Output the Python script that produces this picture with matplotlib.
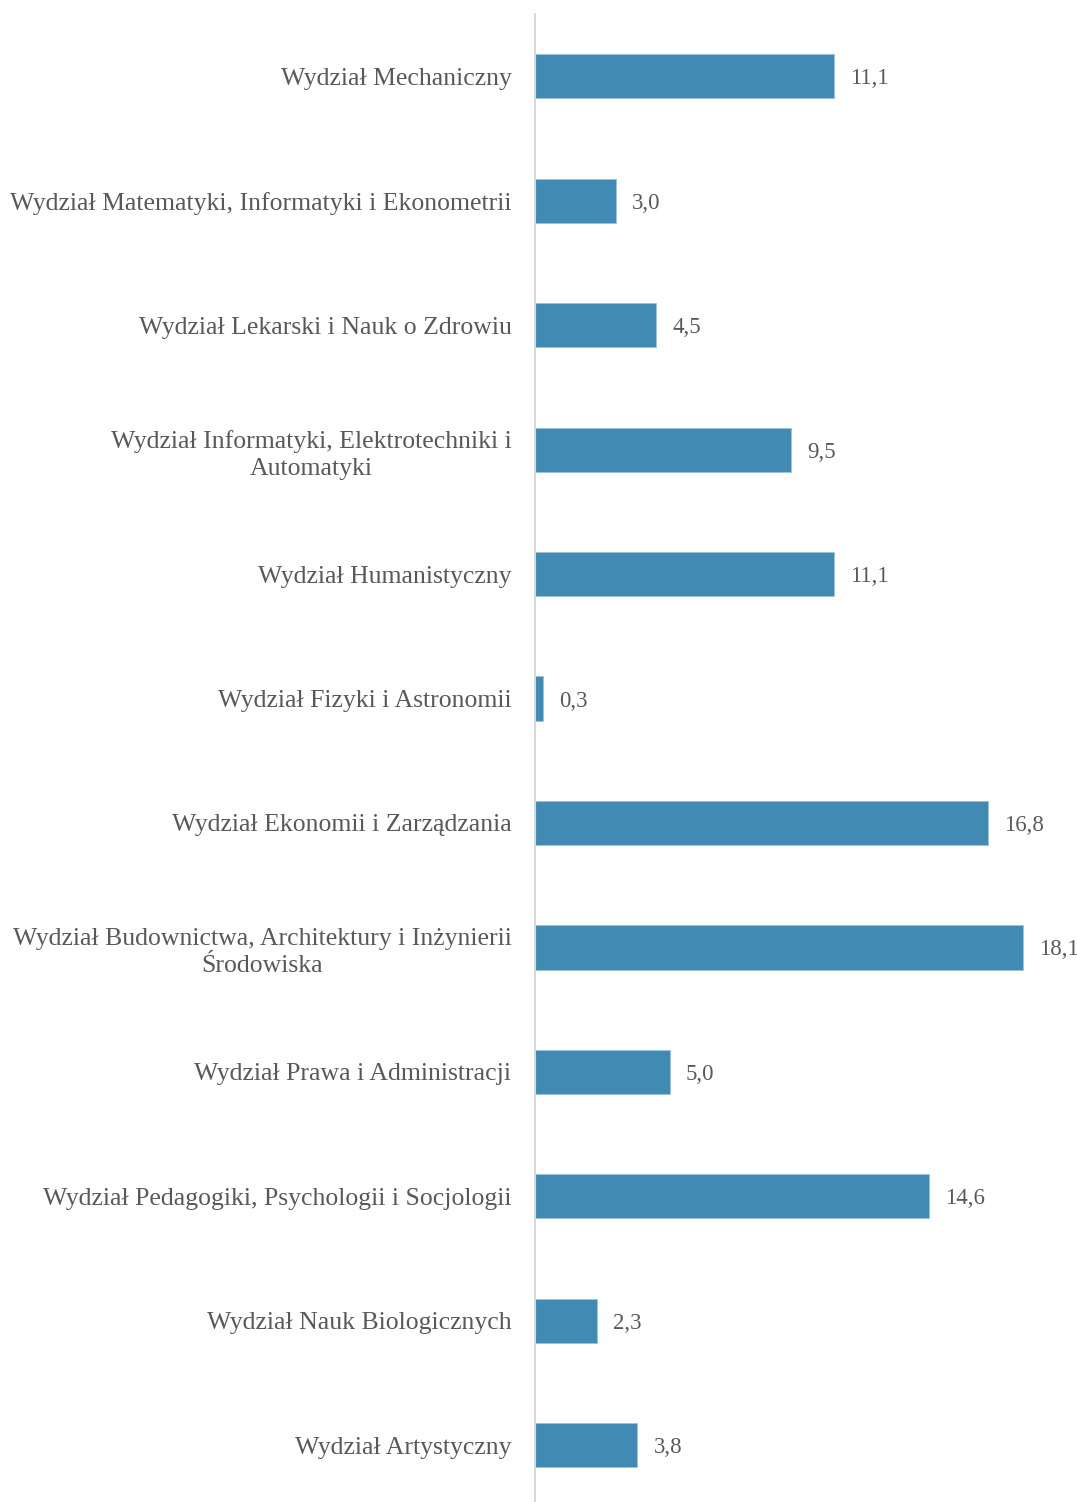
import matplotlib.pyplot as plt

faculties = [
    "Wydział Mechaniczny",
    "Wydział Matematyki, Informatyki i Ekonometrii",
    "Wydział Lekarski i Nauk o Zdrowiu",
    "Wydział Informatyki, Elektrotechniki i\nAutomatyki",
    "Wydział Humanistyczny",
    "Wydział Fizyki i Astronomii",
    "Wydział Ekonomii i Zarządzania",
    "Wydział Budownictwa, Architektury i Inżynierii\nŚrodowiska",
    "Wydział Prawa i Administracji",
    "Wydział Pedagogiki, Psychologii i Socjologii",
    "Wydział Nauk Biologicznych",
    "Wydział Artystyczny",
]
values = [11.1, 3.0, 4.5, 9.5, 11.1, 0.3, 16.8, 18.1, 5.0, 14.6, 2.3, 3.8]

BAR = '#418AB3'
TXT = '#595959'

plt.rcParams['font.family'] = ['Liberation Serif', 'DejaVu Serif']

fig = plt.figure(figsize=(10.77, 15.02), dpi=100)
# axes slightly taller than the figure so the 12 rows get the reference spacing
ax = fig.add_axes([535/1077, -5.5/1502, 540/1077, 1493.5/1502])

y = list(range(len(faculties)))
ax.barh(y, values, height=0.355, color=BAR, edgecolor='#9CC3DA', linewidth=0.6)
for yi, v in zip(y, values):
    ax.text(v + 0.6, yi + 0.02, f"{v:.1f}".replace('.', ','), va='center', ha='left',
            fontsize=16.5, color=TXT)

ax.set_xlim(0, 540/26.96)
ax.set_ylim(len(faculties) - 0.5, -0.5)
ax.set_yticks(y)
ax.set_yticklabels(faculties, fontsize=18.5, color=TXT, ha='right',
                   multialignment='center', linespacing=1.3)
ax.tick_params(axis='y', length=0, pad=17)
ax.set_xticks([])
for s in ['top', 'right', 'bottom']:
    ax.spines[s].set_visible(False)
ax.spines['left'].set_color('#D9D9D9')
ax.spines['left'].set_linewidth(1.5)

fig.savefig('out.png', dpi=100)
